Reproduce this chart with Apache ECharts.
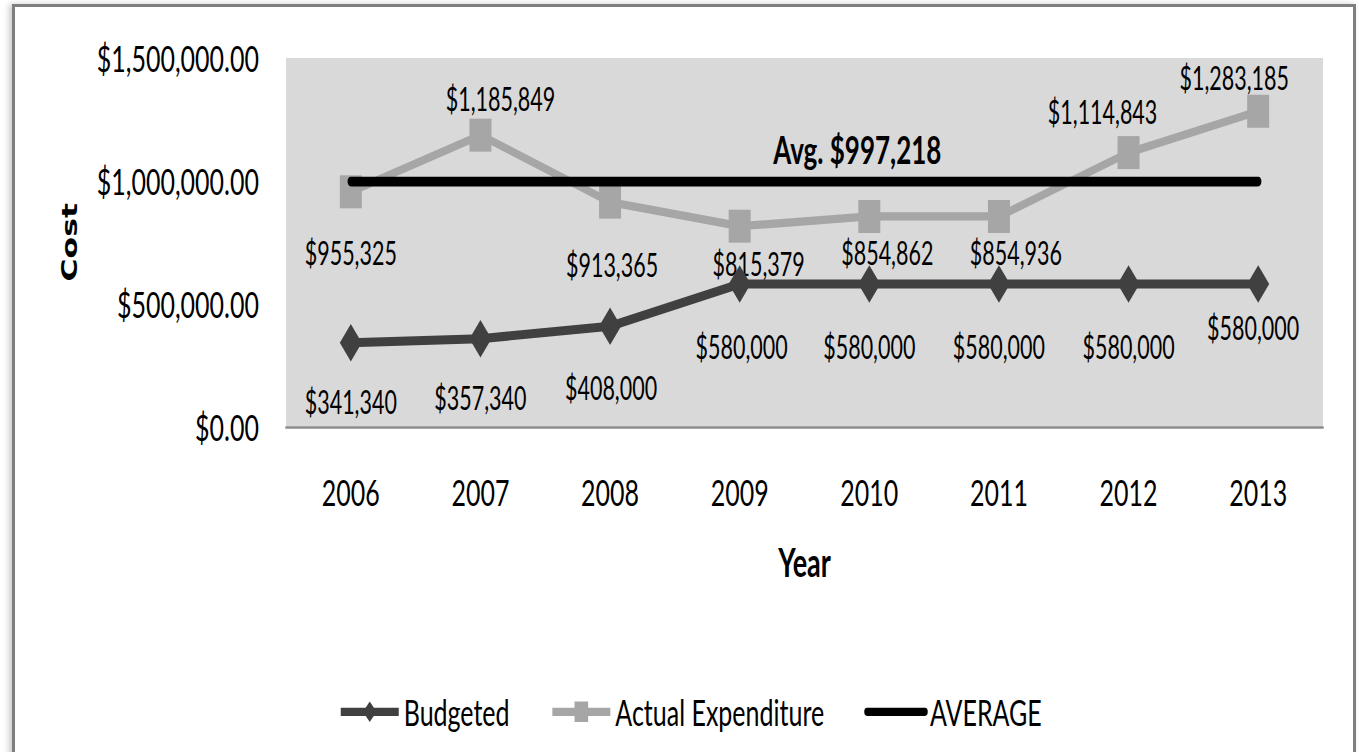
<!DOCTYPE html>
<html><head><meta charset="utf-8">
<script src="https://cdn.jsdelivr.net/npm/echarts@6/dist/echarts.min.js"></script>
<style>
html,body{margin:0;padding:0;background:#fff;overflow:hidden;}
#frame{position:absolute;left:12px;top:4px;width:1338px;height:770px;border:3px solid #7f7f7f;box-shadow:-3px 0 6px #ccc;}
#c{position:absolute;left:0;top:0;width:1359px;transform-origin:0 0;}
</style></head>
<body>
<div id="frame"></div>
<div id="c"></div>
<script>
const years = ['2006','2007','2008','2009','2010','2011','2012','2013'];
const budgeted = [341340, 357340, 408000, 580000, 580000, 580000, 580000, 580000];
const actual = [955325, 1185849, 913365, 815379, 854862, 854936, 1114843, 1283185];
const averageValue = 997218;
const yTicks = [0, 500000, 1000000, 1500000];

// The reference picture is stretched vertically; draw at 1/S height then scale.
const S = 1.5;
const H = 752 / S;
const el = document.getElementById('c');
el.style.height = H + 'px';
el.style.transform = 'scaleY(' + S + ')';

const FONT = 'Lato, "Open Sans", sans-serif';
const money = v => '$' + v.toLocaleString('en-US');
const moneyAxis = v => '$' + v.toLocaleString('en-US', {minimumFractionDigits:2, maximumFractionDigits:2});

// label placement offsets (style only, in picture pixels)
const actualDX = [0, 20, 2, 19, 18, 17, -26, -24];
const actualDY = [61, -37, 63, 37, 36, 36, -41, -34];
const budgetDX = [0, 0, 1, 2, 0, 0, 0, -5];
const budgetDY = [59, 59, 61, 63, 63, 63, 63, 44];

const chart = echarts.init(el, null, {renderer: 'svg'});
chart.setOption({
  animation: false,
  textStyle: {fontFamily: FONT},
  grid: {left: 286, right: 36, top: 58 / S, bottom: H - 427 / S, show: true, backgroundColor: '#d9d9d9', borderWidth: 0},
  xAxis: {
    type: 'category', data: years, boundaryGap: true,
    name: 'Year', nameLocation: 'middle', nameGap: 76,
    nameTextStyle: {fontFamily: FONT, fontSize: 27, fontWeight: 'bold', color: '#000'},
    axisLine: {lineStyle: {color: '#8c8c8c', width: 1.6}},
    axisTick: {show: false},
    axisLabel: {fontFamily: FONT, fontSize: 25, color: '#000', margin: 31}
  },
  yAxis: {
    type: 'value', min: yTicks[0], max: yTicks[yTicks.length-1], interval: yTicks[1]-yTicks[0],
    name: 'Cost', nameLocation: 'middle', nameGap: 206,
    nameTextStyle: {fontFamily: 'DejaVu Sans', fontSize: 21, fontWeight: 'bold', color: '#000'},
    axisLine: {show: false}, axisTick: {show: false}, splitLine: {show: false},
    axisLabel: {fontFamily: FONT, fontSize: 25, color: '#000', margin: 27, formatter: moneyAxis}
  },
  legend: {
    top: 457, left: 333, itemGap: 40, itemWidth: 58, itemHeight: 17,
    lineStyle: {width: 5.5},
    textStyle: {fontFamily: FONT, fontSize: 25, color: '#000'},
    data: ['Budgeted', 'Actual Expenditure', {name: 'AVERAGE', itemStyle: {opacity: 0}}]
  },
  series: [
    {
      name: 'Budgeted', type: 'line',
      data: budgeted.map((v,i)=>({value:v, label:{offset:[budgetDX[i], budgetDY[i]/S]}})),
      symbol: 'diamond', symbolSize: [22, 25],
      lineStyle: {color: '#404040', width: 6}, itemStyle: {color: '#404040'},
      label: {show: true, position: 'inside', fontFamily: FONT, fontSize: 21.5, color: '#000', formatter: p => money(p.value)},
      z: 3
    },
    {
      name: 'Actual Expenditure', type: 'line',
      data: actual.map((v,i)=>({value:v, label:{offset:[actualDX[i], actualDY[i]/S]}})),
      symbol: 'rect', symbolSize: 22,
      lineStyle: {color: '#a6a6a6', width: 5.5}, itemStyle: {color: '#a6a6a6'},
      label: {show: true, position: 'inside', fontFamily: FONT, fontSize: 21.5, color: '#000', formatter: p => money(p.value)},
      z: 2
    },
    {
      name: 'AVERAGE', type: 'line', data: years.map(() => averageValue),
      symbol: 'none', showSymbol: false,
      lineStyle: {color: '#000', width: 6.5, cap: 'round'}, itemStyle: {color: '#000'},
      markPoint: {
        symbol: 'circle', symbolSize: 0, silent: true,
        data: [{coord: [4, averageValue], value: averageValue}],
        label: {show: true, position: 'inside', offset: [-12, -33 / S], fontFamily: FONT, fontSize: 26, fontWeight: 'bold', color: '#000',
                formatter: p => 'Avg. ' + money(p.value)}
      },
      z: 4
    }
  ]
});
</script>
</body></html>
